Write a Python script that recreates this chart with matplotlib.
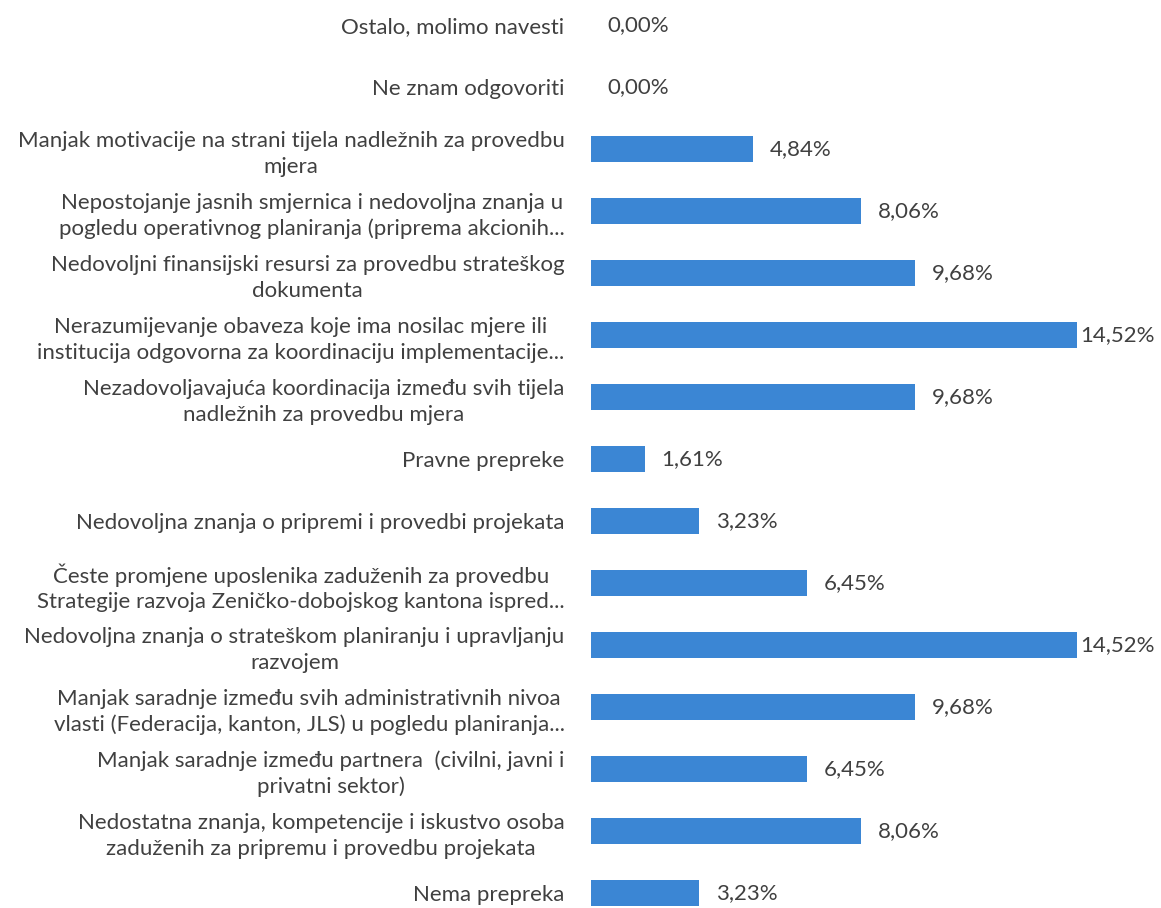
import matplotlib.pyplot as plt

plt.rcParams['font.family'] = ['Lato', 'DejaVu Sans']

categories = [
    'Ostalo, molimo navesti',
    'Ne znam odgovoriti',
    'Manjak motivacije na strani tijela nadležnih za provedbu\nmjera',
    'Nepostojanje jasnih smjernica i nedovoljna znanja u\npogledu operativnog planiranja (priprema akcionih...',
    'Nedovoljni finansijski resursi za provedbu strateškog\ndokumenta',
    'Nerazumijevanje obaveza koje ima nosilac mjere ili\ninstitucija odgovorna za koordinaciju implementacije...',
    'Nezadovoljavajuća koordinacija između svih tijela\nnadležnih za provedbu mjera',
    'Pravne prepreke',
    'Nedovoljna znanja o pripremi i provedbi projekata',
    'Česte promjene uposlenika zaduženih za provedbu\nStrategije razvoja Zeničko-dobojskog kantona ispred...',
    'Nedovoljna znanja o strateškom planiranju i upravljanju\nrazvojem',
    'Manjak saradnje između svih administrativnih nivoa\nvlasti (Federacija, kanton, JLS) u pogledu planiranja...',
    'Manjak saradnje između partnera  (civilni, javni i\nprivatni sektor)',
    'Nedostatna znanja, kompetencije i iskustvo osoba\nzaduženih za pripremu i provedbu projekata',
    'Nema prepreka',
]
values = [0.00, 0.00, 4.84, 8.06, 9.68, 14.52, 9.68, 1.61, 3.23, 6.45, 14.52, 9.68, 6.45, 8.06, 3.23]

BAR = '#3b86d4'
TXT = '#404040'

fig = plt.figure(figsize=(11.61, 9.08), dpi=100)
# axes placed so the value axis runs from the bar start to the longest bar end
ax = fig.add_axes([591 / 1161, 0.0, (1077 - 591) / 1161, 1.0])

pos = list(range(len(categories)))
ax.barh(pos, values, height=0.41, color=BAR)

ax.set_xlim(0, max(values))
ax.set_ylim(14 + 15 / 62, -25 / 62)

ax.set_yticks(pos)
ax.set_yticklabels(categories, fontsize=16, color=TXT)
plt.setp(ax.get_yticklabels(), multialignment='center', linespacing=1.35)
ax.tick_params(axis='y', length=0, pad=19)
ax.set_xticks([])
for s in ax.spines.values():
    s.set_visible(False)

top = max(values)
for y, v in zip(pos, values):
    off = 2 if v == top else 12
    ax.annotate(f'{v:.2f}%'.replace('.', ','), (v, y), xytext=(off, 0),
                textcoords='offset points', va='center', ha='left',
                fontsize=16, color=TXT, annotation_clip=False)

fig.savefig('out.png', dpi=100)
